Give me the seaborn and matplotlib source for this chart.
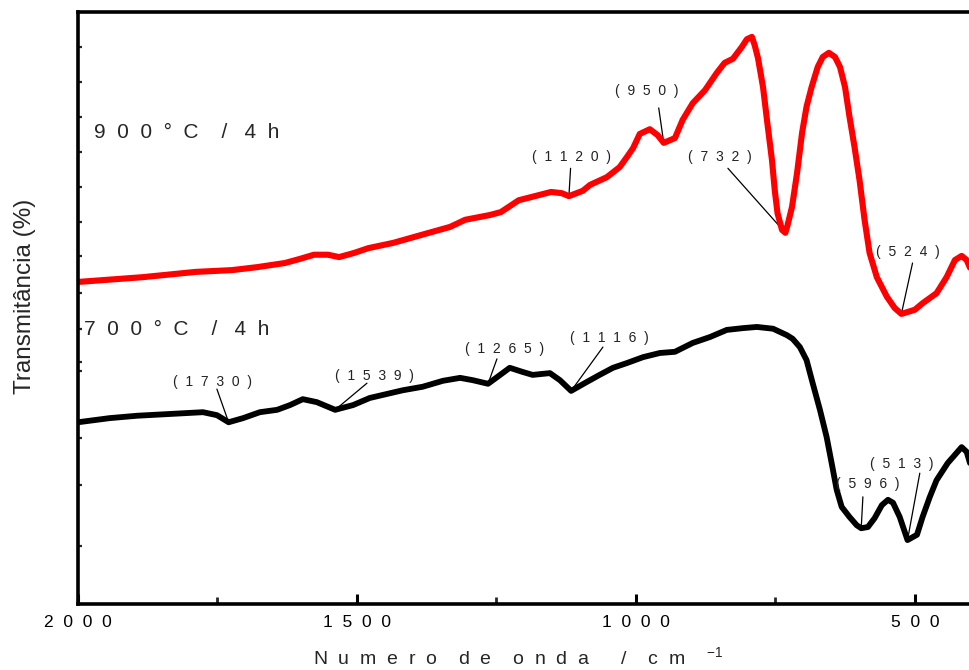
import matplotlib
matplotlib.use("Agg")
import matplotlib.pyplot as plt
import numpy as np
import pandas as pd
import seaborn as sns

# FTIR spectra of the powder calcined at two temperatures
wavenumber_900 = [2000, 1885, 1789, 1724, 1679, 1629, 1602, 1577, 1552, 1532,
                  1505, 1480, 1435, 1371, 1333, 1306, 1262, 1242, 1210, 1185,
                  1152, 1133, 1120, 1095, 1082, 1052, 1029, 1016, 1005, 993,
                  975, 961, 950, 930, 916, 898, 876, 855, 841, 826,
                  810, 801, 792, 787, 781, 772, 765, 756, 751, 746,
                  738, 732, 728, 720, 711, 702, 694, 685, 674, 665,
                  654, 643, 634, 625, 617, 608, 599, 590, 581, 568,
                  550, 536, 524, 500, 486, 461, 443, 428, 416, 407,
                  401]
transmit_900 = [54.4, 55.2, 56.1, 56.4, 56.9, 57.6, 58.3, 59.0, 59.0, 58.6,
                59.3, 60.1, 61.0, 62.7, 63.7, 64.9, 65.7, 66.2, 68.2, 68.8,
                69.6, 69.4, 68.9, 69.8, 70.8, 72.1, 73.8, 75.5, 77.0, 79.4,
                80.2, 79.2, 77.9, 78.7, 81.8, 84.6, 86.8, 89.7, 91.4, 92.1,
                94.1, 95.4, 95.8, 94.4, 92.2, 87.3, 81.8, 75.0, 69.9, 66.0,
                63.2, 62.7, 64.0, 67.1, 72.8, 79.6, 84.0, 87.3, 90.7, 92.4,
                93.1, 92.4, 90.7, 87.3, 82.3, 77.2, 71.6, 64.9, 59.3, 55.2,
                51.9, 50.0, 49.0, 49.7, 50.8, 52.5, 55.2, 58.1, 58.8, 58.1,
                56.8]

wavenumber_700 = [2000, 1943, 1894, 1835, 1776, 1751, 1730, 1704, 1674, 1643,
                  1620, 1597, 1572, 1539, 1507, 1477, 1418, 1382, 1346, 1315,
                  1292, 1265, 1249, 1226, 1203, 1185, 1154, 1136, 1116, 1088,
                  1065, 1041, 1016, 987, 957, 930, 898, 867, 837, 808,
                  783, 754, 729, 719, 706, 694, 683, 670, 658, 649,
                  640, 631, 617, 604, 596, 584, 572, 559, 548, 539,
                  527, 513, 496, 486, 473, 461, 441, 428, 416, 407,
                  401]
transmit_700 = [30.7, 31.4, 31.8, 32.1, 32.4, 31.9, 30.7, 31.4, 32.4, 32.8,
                33.6, 34.6, 34.1, 32.8, 33.6, 34.8, 36.1, 36.7, 37.7, 38.2,
                37.8, 37.2, 38.3, 39.9, 39.2, 38.7, 39.0, 37.8, 36.0, 37.5,
                38.7, 39.9, 40.7, 41.7, 42.4, 42.6, 44.1, 45.1, 46.3, 46.6,
                46.8, 46.5, 45.4, 44.8, 43.4, 41.2, 37.3, 32.8, 28.2, 23.8,
                19.3, 16.4, 14.7, 13.3, 12.8, 13.0, 14.5, 16.7, 17.6, 17.1,
                14.7, 10.8, 11.7, 14.7, 18.1, 20.9, 23.8, 25.2, 26.5, 25.7,
                23.8]

# Assigned bands (cm-1)
bands_900 = [1120, 950, 732, 524]
bands_700 = [1730, 1539, 1265, 1116, 596, 513]

x_major = [2000, 1500, 1000, 500]
x_minor = [1750, 1250, 750]
x_ticklabels = ["2  0  0  0", "1  5  0  0", "1  0  0  0", "5  0  0"]

label_900 = "9  0  0  °  C    /   4  h"
label_700 = "7  0  0  °  C    /   4  h"
ylabel = "Transmitância (%)"
xlabel = "N  u  m  e  r  o    d  e    o  n  d  a      /    c  m    $^{-1}$"


def spaced(n):
    return "(  " + "  ".join(str(n)) + "  )"


# ---------------------------------------------------------------- figure
sns.set_style("ticks")
plt.rcParams["font.family"] = ["Liberation Sans", "DejaVu Sans"]
plt.rcParams["mathtext.fontset"] = "custom"
plt.rcParams["mathtext.rm"] = "Liberation Sans"
plt.rcParams["mathtext.it"] = "Liberation Sans"

fig = plt.figure(figsize=(9.7, 6.7), dpi=100)
ax = fig.add_axes([78 / 970, 66 / 670, 892 / 970, 592 / 670])

df900 = pd.DataFrame({"wn": wavenumber_900, "T": transmit_900})
df700 = pd.DataFrame({"wn": wavenumber_700, "T": transmit_700})

line_kw = dict(solid_joinstyle="round", solid_capstyle="round")
sns.lineplot(data=df900, x="wn", y="T", color="#ff0000", linewidth=4.4,
             sort=False, estimator=None, ax=ax, **line_kw)
sns.lineplot(data=df700, x="wn", y="T", color="black", linewidth=4.2,
             sort=False, estimator=None, ax=ax, **line_kw)

ax.set_xlim(2000, 401)
ax.set_ylim(0, 100)

# frame
for side in ["left", "top", "bottom"]:
    ax.spines[side].set_linewidth(2.6)
    ax.spines[side].set_color("black")
ax.spines["right"].set_visible(False)

ax.set_xticks(x_major)
ax.set_xticklabels(x_ticklabels, fontsize=12.5)
ax.set_xticks(x_minor, minor=True)
ax.tick_params(axis="x", which="major", direction="in", length=7, width=2.2,
               pad=8, colors="black")
ax.tick_params(axis="x", which="minor", direction="in", length=5, width=2.0)

# small inward marks along the left spine
ytick_px = [47, 82, 117, 152, 187, 222, 256, 293, 329, 362, 371, 438, 485, 546]
ax.set_yticks([(604 - p) / 5.92 for p in ytick_px])
ax.set_yticklabels([])
ax.tick_params(axis="y", which="major", direction="in", length=3, width=1.6,
               left=True, right=False)

ax.set_xlabel("")
ax.set_ylabel(ylabel, fontsize=17.5, labelpad=0)
ax.yaxis.set_label_coords(-0.047, 0.52)
fig.text(518 / 970, 1 - 657 / 670, xlabel, fontsize=14, ha="center",
         va="center")

# sample labels
ax.text(1972, 79.6, label_900, fontsize=15, ha="left", va="center")
ax.text(1990, 46.4, label_700, fontsize=15, ha="left", va="center")

# band annotations: text centre and leader start, in data coordinates
layout_900 = [((1115, 75.5), (1117, 73.6)),
              ((980, 86.7), (959, 83.8)),
              ((849, 75.5), (835, 73.6)),
              ((513, 59.5), (504, 57.6))]
layout_700 = [((1758, 37.5), (1751, 36.3)),
              ((1468, 38.5), (1482, 37.3)),
              ((1235, 43.1), (1249, 41.4)),
              ((1047, 44.9), (1059, 43.4)),
              ((584, 20.3), (593, 18.1)),
              ((523, 23.6), (491, 22.1))]


def annotate(bands, wns, ts, layout):
    for band, (txt, start) in zip(bands, layout):
        y = float(np.interp(band, wns[::-1], ts[::-1]))
        ax.plot([start[0], band], [start[1], y], color="black", lw=0.9,
                zorder=1)
        ax.text(txt[0], txt[1], spaced(band), fontsize=10, ha="center",
                va="center", color="#222222")


annotate(bands_900, wavenumber_900, transmit_900, layout_900)
annotate(bands_700, wavenumber_700, transmit_700, layout_700)

fig.savefig("out.png", dpi=100, facecolor="white")
